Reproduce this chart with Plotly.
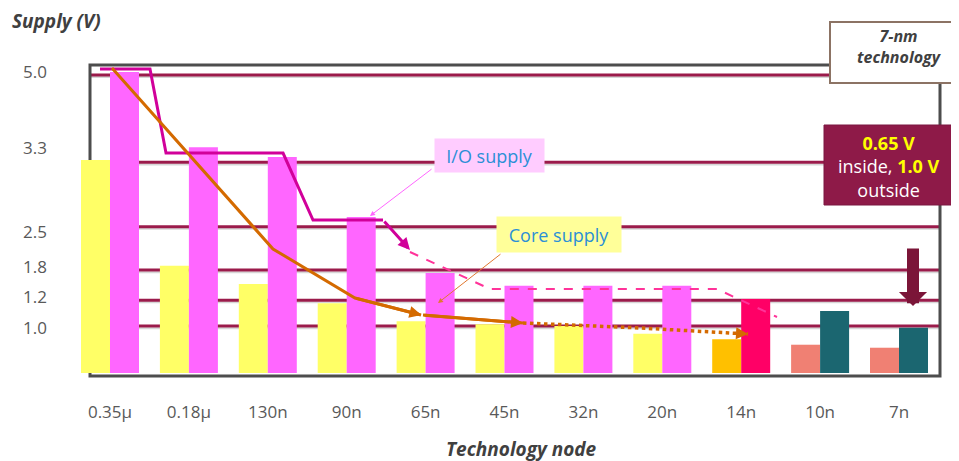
import plotly.graph_objects as go

# ---------------- data (schematic level units) ----------------
nodes = ["0.35μ", "0.18μ", "130n", "90n", "65n", "45n", "32n", "20n", "14n", "10n", "7n"]
core_height = [3.54, 1.78, 1.48, 1.16, 0.86, 0.81, 0.78, 0.65, 0.56, 0.47, 0.42]
io_height = [5.00, 3.75, 3.59, 2.59, 1.66, 1.45, 1.45, 1.45, 1.23, 1.03, 0.75]

tick_labels = ["5.0", "3.3", "2.5", "1.8", "1.2", "1.0"]
tick_levels = [5.00, 3.74, 2.34, 1.76, 1.26, 0.75]
line_levels = [4.95, 3.50, 2.43, 1.71, 1.21, 0.78]

# trend lines (x in node-index units, y in level units)
io_trend_x = [-0.127, 0.507, 0.710, 2.193, 2.573, 3.460]
io_trend_y = [5.05, 5.05, 3.654, 3.654, 2.541, 2.541]
io_arrow_tip = [3.802, 2.043]
io_dash_x = [3.802, 4.816, 7.693, 8.454]
io_dash_y = [2.010, 1.395, 1.395, 0.930]

core_trend_x = [0.025, 2.066, 3.105, 3.942]
core_trend_y = [5.066, 2.060, 1.246, 0.963]
core_seg2_x = [3.967, 5.234]
core_seg2_y = [0.963, 0.831]
core_dot_x = [5.234, 6.717, 8.086]
core_dot_y = [0.831, 0.748, 0.648]

# ---------------- styles ----------------
core_colors = ["#FFFF66"] * 8 + ["#FFC000", "#F08073", "#F08073"]
io_colors = ["#FF66FF"] * 8 + ["#FF0066", "#1B6670", "#1B6670"]
FONT = "Open Sans"
GREY = "#595959"
idx = list(range(len(nodes)))

# page has an 8px body margin; plot area is 862 x 311 px
W, H = 951, 453
L, T = 70, 57
PW, PH = 862, 311


def px(xp):
    """page x pixel -> paper x"""
    return (xp - 8 - L) / PW


def py(yp):
    """page y pixel -> paper y"""
    return (T + PH - (yp - 8)) / PH


fig = go.Figure()

# dashed / dotted parts lie behind the bars
fig.add_trace(go.Scatter(x=io_dash_x, y=io_dash_y, mode="lines",
                         line=dict(color="#FF3399", width=2, dash="dash"),
                         hoverinfo="skip", showlegend=False))
fig.add_trace(go.Scatter(x=core_dot_x, y=core_dot_y, mode="lines",
                         line=dict(color="#D46A00", width=3.5, dash="dot"),
                         hoverinfo="skip", showlegend=False))

fig.add_trace(go.Bar(x=idx, y=core_height, name="Core supply",
                     marker=dict(color=core_colors, line=dict(width=0)), showlegend=False))
fig.add_trace(go.Bar(x=idx, y=io_height, name="I/O supply",
                     marker=dict(color=io_colors, line=dict(width=0)), showlegend=False))

fig.add_trace(go.Scatter(x=io_trend_x, y=io_trend_y, mode="lines",
                         line=dict(color="#D1009A", width=3),
                         hoverinfo="skip", showlegend=False))
fig.add_trace(go.Scatter(x=core_trend_x, y=core_trend_y, mode="lines",
                         line=dict(color="#D46A00", width=3),
                         hoverinfo="skip", showlegend=False))
fig.add_trace(go.Scatter(x=core_seg2_x, y=core_seg2_y, mode="lines",
                         line=dict(color="#D46A00", width=3),
                         hoverinfo="skip", showlegend=False))

box_x0 = px(90)
shapes = []
for lv in line_levels:
    shapes.append(dict(type="line", xref="paper", yref="y", x0=box_x0, x1=1, y0=lv - 0.035, y1=lv - 0.035,
                       line=dict(color="rgba(120,120,120,0.30)", width=2), layer="below"))
    shapes.append(dict(type="line", xref="paper", yref="y", x0=box_x0, x1=1, y0=lv, y1=lv,
                       line=dict(color="#9B1B4B", width=3), layer="below"))
shapes.append(dict(type="rect", xref="paper", yref="paper", x0=box_x0, x1=1, y0=0, y1=1,
                   line=dict(color="#4D4D4D", width=3), layer="below"))
# 7-nm technology box
shapes.append(dict(type="rect", xref="paper", yref="paper", x0=px(830), x1=px(968), y0=py(83), y1=py(22),
                   fillcolor="white", line=dict(color="#8C7364", width=2), layer="above"))
# red callout box
shapes.append(dict(type="rect", xref="paper", yref="paper", x0=px(824), x1=px(954), y0=py(205), y1=py(125),
                   fillcolor="#8E1A48", line=dict(color="#7A1640", width=1), layer="above"))

annotations = []
# arrowheads on trend lines
annotations.append(dict(x=io_arrow_tip[0], y=io_arrow_tip[1], ax=io_trend_x[-1], ay=io_trend_y[-1],
                        xref="x", yref="y", axref="x", ayref="y", text="", showarrow=True,
                        arrowcolor="#D1009A", arrowwidth=3, arrowhead=2, arrowsize=0.8))
annotations.append(dict(x=core_seg2_x[0] - 0.02, y=core_seg2_y[0], ax=core_trend_x[-2], ay=core_trend_y[-2],
                        xref="x", yref="y", axref="x", ayref="y", text="", showarrow=True,
                        arrowcolor="#D46A00", arrowwidth=3, arrowhead=2, arrowsize=0.8))
annotations.append(dict(x=core_seg2_x[1], y=core_seg2_y[1], ax=core_seg2_x[0], ay=core_seg2_y[0],
                        xref="x", yref="y", axref="x", ayref="y", text="", showarrow=True,
                        arrowcolor="#D46A00", arrowwidth=3, arrowhead=2, arrowsize=0.8))
annotations.append(dict(x=core_dot_x[-1], y=core_dot_y[-1], ax=7.95, ay=0.658,
                        xref="x", yref="y", axref="x", ayref="y", text="", showarrow=True,
                        arrowcolor="#D46A00", arrowwidth=3, arrowhead=2, arrowsize=0.8))
# leaders
annotations.append(dict(x=3.295, y=2.608, ax=4.094, ay=3.405, xref="x", yref="y", axref="x", ayref="y",
                        text="", showarrow=True, arrowcolor="#FF66FF", arrowwidth=1, arrowhead=2, arrowsize=1))
annotations.append(dict(x=4.157, y=1.163, ax=4.968, ay=1.993, xref="x", yref="y", axref="x", ayref="y",
                        text="", showarrow=True, arrowcolor="#E07830", arrowwidth=1, arrowhead=2, arrowsize=1))
# labels
annotations.append(dict(x=px(489.5), y=py(155.5), xref="paper", yref="paper", text="I/O supply", showarrow=False,
                        font=dict(family=FONT, size=18, color="#2B8FD6"), bgcolor="#FFCCFF",
                        width=99, height=23, borderpad=5, xanchor="center", yanchor="middle"))
annotations.append(dict(x=px(559), y=py(234.5), xref="paper", yref="paper", text="Core supply", showarrow=False,
                        font=dict(family=FONT, size=18, color="#2B8FD6"), bgcolor="#FFFF99",
                        width=114, height=25, borderpad=5, xanchor="center", yanchor="middle"))
annotations.append(dict(x=px(899), y=py(46.5), xref="paper", yref="paper",
                        text="<b><i>7-nm</i></b><br><b><i>technology</i></b>", showarrow=False,
                        font=dict(family=FONT, size=16, color="#404040"), xanchor="center", yanchor="middle"))
annotations.append(dict(x=px(889), y=py(166), xref="paper", yref="paper",
                        text="<b><span style='color:#FFFF00'>0.65 V</span></b><br>inside, "
                             "<b><span style='color:#FFFF00'>1.0 V</span></b><br>outside",
                        showarrow=False, font=dict(family=FONT, size=18, color="white"),
                        xanchor="center", yanchor="middle"))
# big down arrow
annotations.append(dict(x=px(913), y=py(306), xref="paper", yref="paper",
                        ax=0, ay=-59, text="", showarrow=True, arrowcolor="#7B1538",
                        arrowwidth=12, arrowhead=1, arrowsize=0.39))
# axis titles
annotations.append(dict(x=px(10), y=py(21), xref="paper", yref="paper",
                        text="<b><i>Supply (V)</i></b>", showarrow=False, xanchor="left", yanchor="middle",
                        font=dict(family=FONT, size=19, color="#404040")))
annotations.append(dict(x=px(521), y=py(449), xref="paper", yref="paper",
                        text="<b><i>Technology node</i></b>", showarrow=False, xanchor="center", yanchor="middle",
                        font=dict(family=FONT, size=19, color="#404040")))

fig.update_layout(
    width=W, height=H,
    margin=dict(l=L, r=W - L - PW, t=T, b=H - T - PH),
    paper_bgcolor="white", plot_bgcolor="rgba(0,0,0,0)",
    barmode="group", bargap=0.265, bargroupgap=0,
    font=dict(family=FONT, color=GREY),
    xaxis=dict(range=[-0.4056, 10.5196], tickvals=idx, ticktext=nodes, showgrid=False,
               zeroline=False, showline=False, ticks="", ticklabelstandoff=24,
               tickfont=dict(family=FONT, size=17, color=GREY)),
    yaxis=dict(range=[-0.0498, 5.1163], tickvals=tick_levels, ticktext=tick_labels, showgrid=False,
               zeroline=False, showline=False, ticks="", ticklabelstandoff=30,
               tickfont=dict(family=FONT, size=17, color=GREY)),
    shapes=shapes, annotations=annotations,
)

fig.write_html("out.html")
